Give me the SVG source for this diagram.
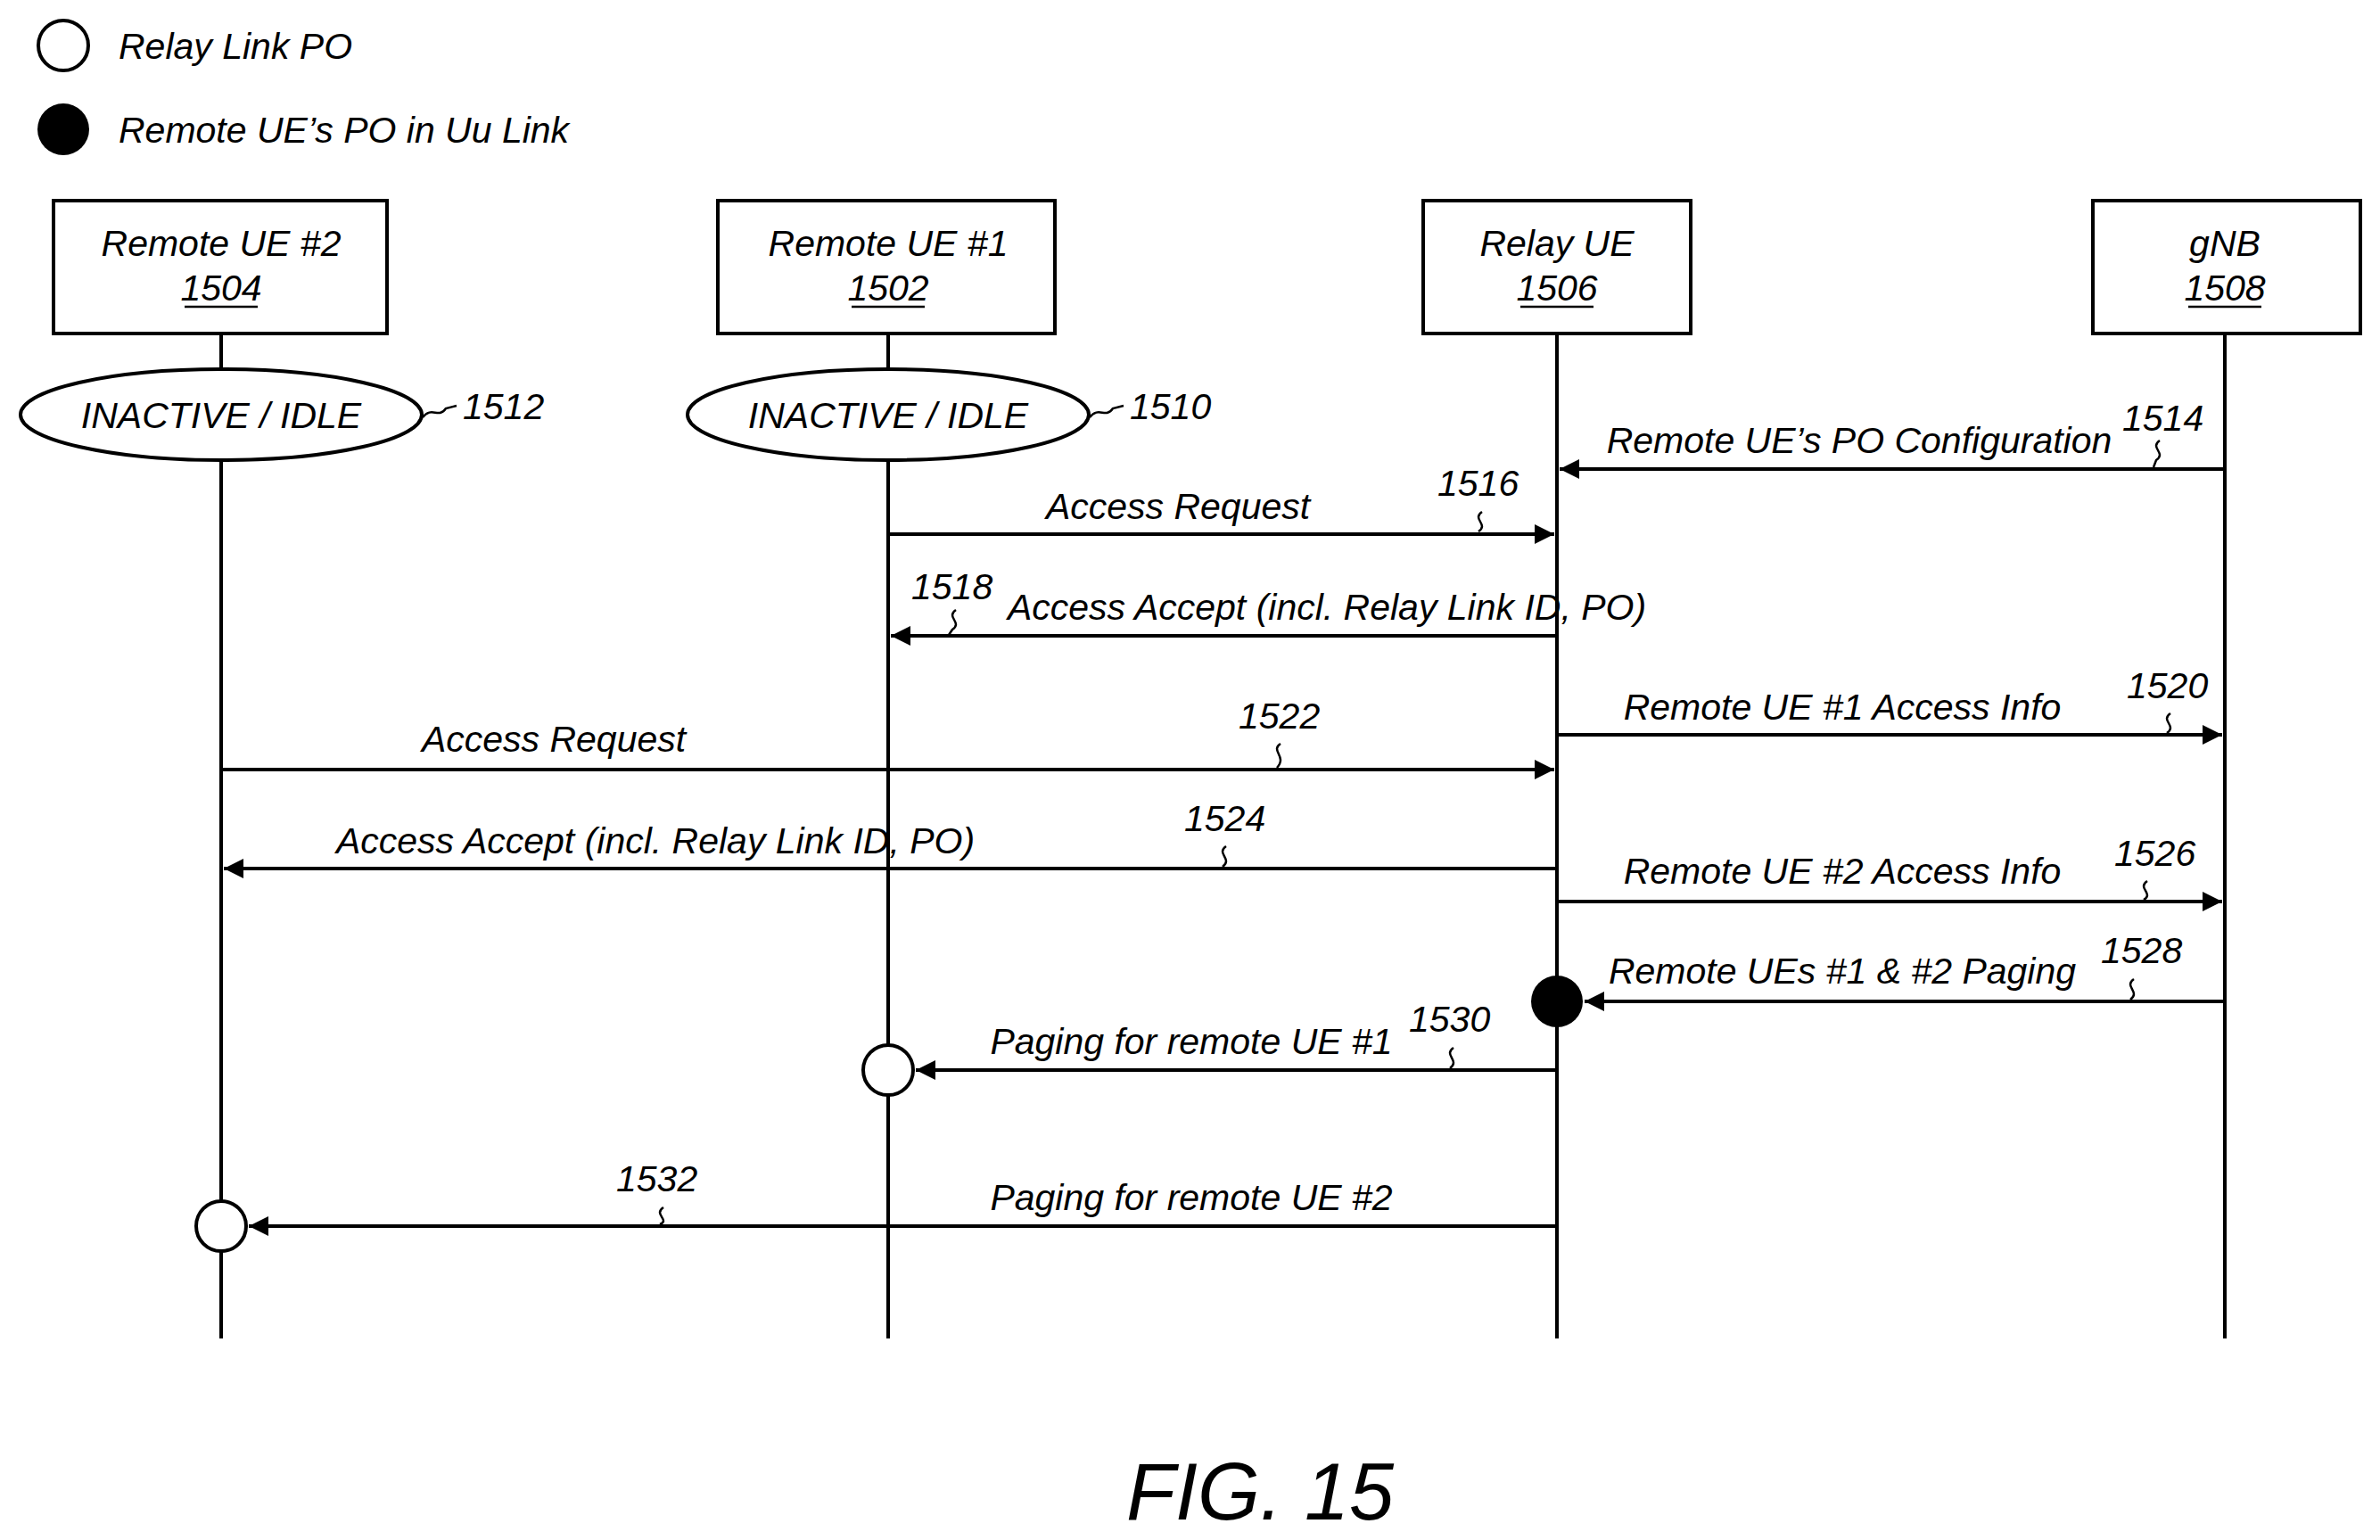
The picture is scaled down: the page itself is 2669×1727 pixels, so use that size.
<svg xmlns="http://www.w3.org/2000/svg" width="2669" height="1727" viewBox="0 0 2669 1727">
<defs>
<marker id="a" viewBox="0 0 10 10" refX="10" refY="5" markerWidth="28" markerHeight="22" orient="auto" markerUnits="userSpaceOnUse"><path d="M0,0 L10,5 L0,10 z" fill="#000"/></marker>
</defs>
<style>
text{font-family:"Liberation Sans",Arial,sans-serif;font-style:italic;font-size:41px;fill:#000}
.c{text-anchor:middle}
.box{fill:#fff;stroke:#000;stroke-width:4}
.ll{stroke:#000;stroke-width:4}
.m{stroke:#000;stroke-width:4;fill:none;marker-end:url(#a)}
.sq{stroke:#000;stroke-width:2.5;fill:none}
.u{stroke:#000;stroke-width:2.5}
</style>
<rect width="2669" height="1727" fill="#fff"/>
<g id="legend">
<circle cx="71" cy="51" r="28" fill="#fff" stroke="#000" stroke-width="4"/>
<text x="133" y="66">Relay Link PO</text>
<circle cx="71" cy="145" r="29" fill="#000"/>
<text x="133" y="160">Remote UE’s PO in Uu Link</text>
</g>
<g id="lifelines">
<line class="ll" x1="248" y1="374" x2="248" y2="1501"/>
<line class="ll" x1="996" y1="374" x2="996" y2="1501"/>
<line class="ll" x1="1746" y1="374" x2="1746" y2="1501"/>
<line class="ll" x1="2495" y1="374" x2="2495" y2="1501"/>
</g>
<g id="n1504"><rect class="box" x="60" y="225" width="374" height="149"/><text class="c" x="248" y="287">Remote UE #2</text><text class="c" x="248" y="337">1504</text><line class="u" x1="207" y1="344" x2="289" y2="344"/></g>
<g id="n1502"><rect class="box" x="805" y="225" width="378" height="149"/><text class="c" x="996" y="287">Remote UE #1</text><text class="c" x="996" y="337">1502</text><line class="u" x1="955" y1="344" x2="1037" y2="344"/></g>
<g id="n1506"><rect class="box" x="1596" y="225" width="300" height="149"/><text class="c" x="1746" y="287">Relay UE</text><text class="c" x="1746" y="337">1506</text><line class="u" x1="1705" y1="344" x2="1787" y2="344"/></g>
<g id="n1508"><rect class="box" x="2347" y="225" width="300" height="149"/><text class="c" x="2495" y="287">gNB</text><text class="c" x="2495" y="337">1508</text><line class="u" x1="2454" y1="344" x2="2536" y2="344"/></g>
<g id="s1512"><ellipse cx="248" cy="465" rx="225" ry="51" fill="#fff" stroke="#000" stroke-width="4"/><text class="c" x="248" y="480">INACTIVE / IDLE</text><path class="sq" d="M474,468 C484,455 492,470 500,458 L512,455"/><text x="519" y="470">1512</text></g>
<g id="s1510"><ellipse cx="996" cy="465" rx="225" ry="51" fill="#fff" stroke="#000" stroke-width="4"/><text class="c" x="996" y="480">INACTIVE / IDLE</text><path class="sq" d="M1222,468 C1232,455 1240,470 1248,458 L1260,455"/><text x="1267" y="470">1510</text></g>
<g id="connectors">
<line class="m" x1="2495" y1="526" x2="1749" y2="526"/>
<line class="m" x1="996" y1="599" x2="1743" y2="599"/>
<line class="m" x1="1746" y1="713" x2="999" y2="713"/>
<line class="m" x1="1746" y1="824" x2="2492" y2="824"/>
<line class="m" x1="248" y1="863" x2="1743" y2="863"/>
<line class="m" x1="1746" y1="974" x2="251" y2="974"/>
<line class="m" x1="1746" y1="1011" x2="2492" y2="1011"/>
<line class="m" x1="2495" y1="1123" x2="1777" y2="1123"/>
<line class="m" x1="1746" y1="1200" x2="1027" y2="1200"/>
<line class="m" x1="1746" y1="1375" x2="279" y2="1375"/>
</g>
<g id="pos">
<circle cx="1746" cy="1123" r="29" fill="#000"/>
<circle cx="996" cy="1200" r="28" fill="#fff" stroke="#000" stroke-width="4"/>
<circle cx="248" cy="1375" r="28" fill="#fff" stroke="#000" stroke-width="4"/>
</g>
<g id="labels">
<text class="c" x="2085" y="508">Remote UE’s PO Configuration</text><text x="2380" y="483">1514</text><path class="sq" d="M2422,494 C2410,502 2430,508 2418,516 L2415,524"/>
<text class="c" x="1321" y="582">Access Request</text><text x="1612" y="556">1516</text><path class="sq" d="M1662,574 C1650,582 1670,588 1658,596"/>
<text x="1022" y="672">1518</text><path class="sq" d="M1072,684 C1060,692 1080,698 1068,706 L1064,712"/>
<text class="c" x="1488" y="695">Access Accept (incl. Relay Link ID, PO)</text>
<text class="c" x="2066" y="807">Remote UE #1 Access Info</text><text x="2385" y="783">1520</text><path class="sq" d="M2434,800 C2422,808 2442,814 2430,822"/>
<text class="c" x="621" y="843">Access Request</text><text x="1389" y="817">1522</text><path class="sq" d="M1436,834 C1424,842 1444,848 1432,861"/>
<text class="c" x="735" y="957">Access Accept (incl. Relay Link ID, PO)</text><text x="1328" y="932">1524</text><path class="sq" d="M1375,949 C1363,957 1383,963 1371,972"/>
<text class="c" x="2066" y="991">Remote UE #2 Access Info</text><text x="2371" y="971">1526</text><path class="sq" d="M2408,988 C2396,996 2416,1002 2404,1009"/>
<text class="c" x="2066" y="1103">Remote UEs #1 &amp; #2 Paging</text><text x="2356" y="1080">1528</text><path class="sq" d="M2393,1098 C2381,1106 2401,1112 2389,1121"/>
<text class="c" x="1336" y="1182">Paging for remote UE #1</text><text x="1580" y="1157">1530</text><path class="sq" d="M1630,1175 C1618,1183 1638,1189 1626,1198"/>
<text class="c" x="1336" y="1357">Paging for remote UE #2</text><text x="691" y="1336">1532</text><path class="sq" d="M744,1354 C732,1362 752,1368 740,1373"/>
</g>
<text class="c" x="1413" y="1704" style="font-size:90px">FIG. 15</text>
</svg>
